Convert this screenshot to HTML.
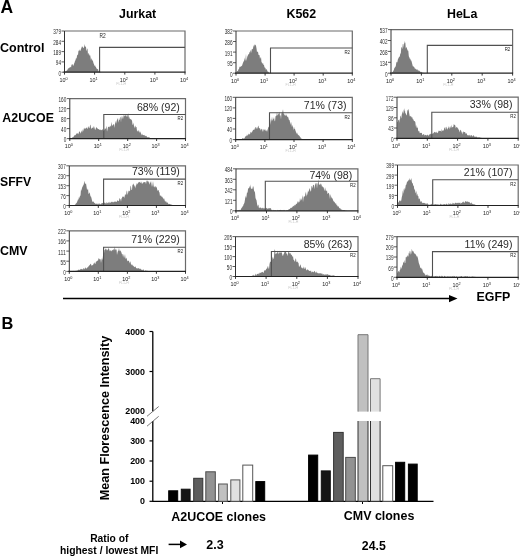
<!DOCTYPE html><html><head><meta charset="utf-8"><style>html,body{margin:0;padding:0;background:#fff;width:520px;height:557px;overflow:hidden}</style></head><body><svg width="520" height="557" viewBox="0 0 520 557" style="display:block;filter:blur(0.3px)">
<rect width="520" height="557" fill="#fff"/>
<path d="M64.50,72.20 L64.50,72.00 L65.00,71.75 L65.50,71.16 L66.00,71.09 L66.50,70.70 L67.00,70.57 L67.50,69.80 L68.00,68.61 L68.50,68.55 L69.00,67.68 L69.50,67.76 L70.00,67.20 L70.50,66.74 L71.00,67.78 L71.50,64.84 L72.00,64.54 L72.50,63.90 L73.00,65.82 L73.50,65.39 L74.00,63.78 L74.50,62.65 L75.00,60.96 L75.50,60.24 L76.00,58.05 L76.50,58.79 L77.00,55.94 L77.50,54.56 L78.00,55.12 L78.50,50.15 L79.00,51.20 L79.50,49.19 L80.00,51.35 L80.50,50.62 L81.00,49.03 L81.50,47.83 L82.00,46.29 L82.50,46.67 L83.00,47.57 L83.50,48.16 L84.00,47.14 L84.50,43.90 L85.00,47.07 L85.50,46.25 L86.00,46.91 L86.50,51.13 L87.00,49.48 L87.50,48.30 L88.00,54.92 L88.50,53.00 L89.00,53.60 L89.50,55.88 L90.00,54.86 L90.50,57.02 L91.00,60.63 L91.50,57.97 L92.00,59.54 L92.50,60.46 L93.00,61.18 L93.50,63.21 L94.00,64.15 L94.50,66.29 L95.00,64.97 L95.50,66.77 L96.00,67.24 L96.50,68.47 L97.00,68.87 L97.50,69.23 L98.00,68.91 L98.50,71.23 L99.00,71.56 L99.50,71.32 L100.00,71.38 L100.50,72.20 L100.50,72.20Z" fill="#7d7d7d" stroke="none"/>
<path d="M64.5,31 H185 V72.2" fill="none" stroke="#6a6a6a" stroke-width="1.2"/>
<path d="M99.6,72.2 V47.4 H185" fill="none" stroke="#505050" stroke-width="1.1"/>
<path d="M64.5,31 V72.2" stroke="#333" stroke-width="1" fill="none"/>
<path d="M63.5,72.2 H185.5" stroke="#222" stroke-width="1.2" fill="none"/>
<path d="M61.5,31.0 H64.5" stroke="#333" stroke-width="0.8"/>
<text x="61.0" y="34.4" font-family="Liberation Sans, sans-serif" font-size="6.5" text-anchor="end" fill="#2a2a2a" textLength="7.8" lengthAdjust="spacingAndGlyphs">379</text>
<path d="M61.5,41.3 H64.5" stroke="#333" stroke-width="0.8"/>
<text x="61.0" y="44.7" font-family="Liberation Sans, sans-serif" font-size="6.5" text-anchor="end" fill="#2a2a2a" textLength="7.8" lengthAdjust="spacingAndGlyphs">284</text>
<path d="M61.5,51.6 H64.5" stroke="#333" stroke-width="0.8"/>
<text x="61.0" y="55.0" font-family="Liberation Sans, sans-serif" font-size="6.5" text-anchor="end" fill="#2a2a2a" textLength="7.8" lengthAdjust="spacingAndGlyphs">189</text>
<path d="M61.5,61.9 H64.5" stroke="#333" stroke-width="0.8"/>
<text x="61.0" y="65.3" font-family="Liberation Sans, sans-serif" font-size="6.5" text-anchor="end" fill="#2a2a2a" textLength="5.2" lengthAdjust="spacingAndGlyphs">94</text>
<path d="M61.5,72.2 H64.5" stroke="#333" stroke-width="0.8"/>
<text x="61.0" y="75.6" font-family="Liberation Sans, sans-serif" font-size="6.5" text-anchor="end" fill="#2a2a2a" textLength="2.6" lengthAdjust="spacingAndGlyphs">0</text>
<path d="M64.5,72.2 V74.60000000000001" stroke="#222" stroke-width="0.9"/>
<text x="63.5" y="81.8" font-family="Liberation Sans, sans-serif" font-size="5.4" text-anchor="middle" fill="#222">10<tspan font-size="3.8" dy="-2">0</tspan></text>
<path d="M94.6,72.2 V74.60000000000001" stroke="#222" stroke-width="0.9"/>
<text x="93.6" y="81.8" font-family="Liberation Sans, sans-serif" font-size="5.4" text-anchor="middle" fill="#222">10<tspan font-size="3.8" dy="-2">1</tspan></text>
<path d="M124.8,72.2 V74.60000000000001" stroke="#222" stroke-width="0.9"/>
<text x="123.8" y="81.8" font-family="Liberation Sans, sans-serif" font-size="5.4" text-anchor="middle" fill="#222">10<tspan font-size="3.8" dy="-2">2</tspan></text>
<path d="M154.9,72.2 V74.60000000000001" stroke="#222" stroke-width="0.9"/>
<text x="153.9" y="81.8" font-family="Liberation Sans, sans-serif" font-size="5.4" text-anchor="middle" fill="#222">10<tspan font-size="3.8" dy="-2">3</tspan></text>
<path d="M185.0,72.2 V74.60000000000001" stroke="#222" stroke-width="0.9"/>
<text x="184.0" y="81.8" font-family="Liberation Sans, sans-serif" font-size="5.4" text-anchor="middle" fill="#222">10<tspan font-size="3.8" dy="-2">4</tspan></text>
<text x="121.2" y="84.8" font-family="Liberation Sans, sans-serif" font-size="3.6" text-anchor="middle" fill="#c8c8c8">FL1-H</text>
<text x="99.6" y="37.6" font-family="Liberation Sans, sans-serif" font-size="6.3" fill="#222" textLength="6.2" lengthAdjust="spacingAndGlyphs">R2</text>
<path d="M70.00,138.60 L70.00,138.60 L70.50,138.30 L71.00,137.82 L71.50,138.36 L72.00,138.36 L72.50,136.95 L73.00,137.13 L73.50,137.01 L74.00,135.63 L74.50,135.20 L75.00,135.39 L75.50,135.00 L76.00,134.53 L76.50,133.37 L77.00,133.70 L77.50,133.43 L78.00,133.06 L78.50,134.50 L79.00,131.70 L79.50,131.62 L80.00,131.66 L80.50,133.80 L81.00,132.15 L81.50,130.27 L82.00,132.83 L82.50,130.71 L83.00,128.97 L83.50,131.43 L84.00,127.49 L84.50,128.59 L85.00,129.28 L85.50,128.45 L86.00,127.80 L86.50,128.30 L87.00,126.66 L87.50,128.98 L88.00,128.43 L88.50,126.11 L89.00,127.38 L89.50,128.54 L90.00,125.56 L90.50,124.53 L91.00,127.64 L91.50,129.20 L92.00,127.47 L92.50,127.64 L93.00,128.01 L93.50,125.70 L94.00,129.35 L94.50,126.26 L95.00,129.96 L95.50,129.43 L96.00,127.64 L96.50,127.18 L97.00,127.75 L97.50,128.62 L98.00,129.08 L98.50,129.26 L99.00,128.93 L99.50,130.04 L100.00,129.68 L100.50,129.53 L101.00,130.39 L101.50,129.72 L102.00,130.14 L102.50,128.77 L103.00,130.34 L103.50,130.83 L104.00,130.42 L104.50,129.62 L105.00,128.05 L105.50,129.31 L106.00,127.97 L106.50,125.72 L107.00,131.65 L107.50,129.41 L108.00,127.20 L108.50,126.73 L109.00,126.72 L109.50,127.51 L110.00,125.59 L110.50,125.93 L111.00,126.99 L111.50,121.81 L112.00,124.81 L112.50,125.94 L113.00,124.75 L113.50,124.55 L114.00,123.86 L114.50,127.97 L115.00,123.74 L115.50,120.79 L116.00,124.07 L116.50,121.78 L117.00,119.63 L117.50,119.37 L118.00,117.87 L118.50,122.87 L119.00,120.15 L119.50,119.71 L120.00,117.64 L120.50,116.42 L121.00,122.41 L121.50,115.57 L122.00,119.46 L122.50,115.67 L123.00,119.20 L123.50,116.20 L124.00,114.30 L124.50,116.42 L125.00,115.68 L125.50,114.83 L126.00,116.13 L126.50,116.71 L127.00,114.14 L127.50,115.16 L128.00,117.62 L128.50,112.65 L129.00,119.45 L129.50,116.57 L130.00,119.20 L130.50,119.15 L131.00,118.80 L131.50,120.25 L132.00,120.16 L132.50,124.47 L133.00,125.07 L133.50,122.38 L134.00,125.99 L134.50,127.03 L135.00,128.58 L135.50,125.23 L136.00,127.02 L136.50,127.08 L137.00,131.06 L137.50,130.55 L138.00,132.20 L138.50,130.57 L139.00,130.20 L139.50,133.05 L140.00,131.20 L140.50,132.18 L141.00,133.59 L141.50,135.38 L142.00,133.25 L142.50,134.72 L143.00,135.31 L143.50,134.92 L144.00,135.19 L144.50,134.84 L145.00,136.51 L145.50,135.64 L146.00,135.76 L146.50,136.08 L147.00,137.08 L147.50,137.44 L148.00,136.87 L148.50,137.37 L149.00,137.51 L149.50,137.19 L150.00,137.92 L150.50,138.60 L151.00,138.22 L151.50,138.60 L152.00,138.38 L152.50,138.52 L152.80,138.60Z" fill="#7d7d7d" stroke="none"/>
<path d="M69.8,98.6 H185.5 V138.6" fill="none" stroke="#6a6a6a" stroke-width="1.2"/>
<path d="M103.8,138.6 V114.5 H185.5" fill="none" stroke="#505050" stroke-width="1.1"/>
<path d="M69.8,98.6 V138.6" stroke="#333" stroke-width="1" fill="none"/>
<path d="M68.8,138.6 H186.0" stroke="#222" stroke-width="1.2" fill="none"/>
<path d="M66.8,98.6 H69.8" stroke="#333" stroke-width="0.8"/>
<text x="66.3" y="102.0" font-family="Liberation Sans, sans-serif" font-size="6.5" text-anchor="end" fill="#2a2a2a" textLength="7.8" lengthAdjust="spacingAndGlyphs">160</text>
<path d="M66.8,108.6 H69.8" stroke="#333" stroke-width="0.8"/>
<text x="66.3" y="112.0" font-family="Liberation Sans, sans-serif" font-size="6.5" text-anchor="end" fill="#2a2a2a" textLength="7.8" lengthAdjust="spacingAndGlyphs">120</text>
<path d="M66.8,118.6 H69.8" stroke="#333" stroke-width="0.8"/>
<text x="66.3" y="122.0" font-family="Liberation Sans, sans-serif" font-size="6.5" text-anchor="end" fill="#2a2a2a" textLength="5.2" lengthAdjust="spacingAndGlyphs">80</text>
<path d="M66.8,128.6 H69.8" stroke="#333" stroke-width="0.8"/>
<text x="66.3" y="132.0" font-family="Liberation Sans, sans-serif" font-size="6.5" text-anchor="end" fill="#2a2a2a" textLength="5.2" lengthAdjust="spacingAndGlyphs">40</text>
<path d="M66.8,138.6 H69.8" stroke="#333" stroke-width="0.8"/>
<text x="66.3" y="142.0" font-family="Liberation Sans, sans-serif" font-size="6.5" text-anchor="end" fill="#2a2a2a" textLength="2.6" lengthAdjust="spacingAndGlyphs">0</text>
<path d="M69.8,138.6 V141.0" stroke="#222" stroke-width="0.9"/>
<text x="68.8" y="148.2" font-family="Liberation Sans, sans-serif" font-size="5.4" text-anchor="middle" fill="#222">10<tspan font-size="3.8" dy="-2">0</tspan></text>
<path d="M98.7,138.6 V141.0" stroke="#222" stroke-width="0.9"/>
<text x="97.7" y="148.2" font-family="Liberation Sans, sans-serif" font-size="5.4" text-anchor="middle" fill="#222">10<tspan font-size="3.8" dy="-2">1</tspan></text>
<path d="M127.7,138.6 V141.0" stroke="#222" stroke-width="0.9"/>
<text x="126.7" y="148.2" font-family="Liberation Sans, sans-serif" font-size="5.4" text-anchor="middle" fill="#222">10<tspan font-size="3.8" dy="-2">2</tspan></text>
<path d="M156.6,138.6 V141.0" stroke="#222" stroke-width="0.9"/>
<text x="155.6" y="148.2" font-family="Liberation Sans, sans-serif" font-size="5.4" text-anchor="middle" fill="#222">10<tspan font-size="3.8" dy="-2">3</tspan></text>
<path d="M185.5,138.6 V141.0" stroke="#222" stroke-width="0.9"/>
<text x="184.5" y="148.2" font-family="Liberation Sans, sans-serif" font-size="5.4" text-anchor="middle" fill="#222">10<tspan font-size="3.8" dy="-2">4</tspan></text>
<text x="124.2" y="151.2" font-family="Liberation Sans, sans-serif" font-size="3.6" text-anchor="middle" fill="#c8c8c8">FL1-H</text>
<text x="183.2" y="120.3" font-family="Liberation Sans, sans-serif" font-size="5.9" text-anchor="end" fill="#222" textLength="5.6" lengthAdjust="spacingAndGlyphs">R2</text>
<text x="179.8" y="110.6" font-family="Liberation Sans, sans-serif" font-size="10.55" text-anchor="end" fill="#2a2a2a">68% (92)</text>
<path d="M70.00,205.50 L70.00,205.50 L70.50,205.45 L71.00,205.40 L71.50,205.35 L72.00,205.30 L72.50,205.25 L73.00,204.97 L73.50,205.06 L74.00,205.28 L74.50,205.05 L75.00,204.75 L75.50,204.37 L76.00,203.22 L76.50,203.23 L77.00,202.01 L77.50,201.05 L78.00,199.21 L78.50,199.65 L79.00,196.51 L79.50,198.43 L80.00,195.86 L80.50,195.80 L81.00,188.93 L81.50,191.09 L82.00,187.81 L82.50,186.91 L83.00,185.42 L83.50,185.17 L84.00,182.89 L84.50,180.67 L85.00,184.07 L85.50,183.67 L86.00,183.30 L86.50,186.59 L87.00,189.64 L87.50,189.69 L88.00,188.17 L88.50,194.10 L89.00,193.60 L89.50,192.36 L90.00,194.10 L90.50,196.49 L91.00,196.59 L91.50,198.33 L92.00,200.57 L92.50,201.75 L93.00,201.94 L93.50,201.23 L94.00,202.52 L94.50,203.02 L95.00,203.25 L95.50,203.94 L96.00,203.56 L96.50,204.05 L97.00,203.33 L97.50,204.61 L98.00,203.35 L98.50,203.80 L99.00,204.41 L99.50,203.16 L100.00,203.63 L100.50,204.52 L101.00,203.85 L101.50,203.25 L102.00,203.58 L102.50,202.94 L103.00,202.92 L103.50,202.92 L104.00,203.06 L104.50,202.51 L105.00,202.81 L105.50,202.88 L106.00,204.16 L106.50,202.58 L107.00,202.32 L107.50,203.13 L108.00,203.19 L108.50,201.87 L109.00,203.82 L109.50,202.58 L110.00,201.47 L110.50,203.21 L111.00,202.19 L111.50,201.38 L112.00,202.44 L112.50,201.92 L113.00,201.59 L113.50,202.61 L114.00,201.99 L114.50,201.63 L115.00,201.17 L115.50,201.63 L116.00,201.63 L116.50,202.02 L117.00,201.36 L117.50,200.23 L118.00,200.62 L118.50,201.18 L119.00,200.99 L119.50,197.85 L120.00,198.91 L120.50,199.13 L121.00,201.86 L121.50,198.40 L122.00,198.01 L122.50,196.19 L123.00,197.02 L123.50,197.08 L124.00,195.85 L124.50,198.52 L125.00,194.11 L125.50,194.46 L126.00,195.38 L126.50,191.73 L127.00,190.29 L127.50,194.95 L128.00,193.17 L128.50,190.97 L129.00,190.57 L129.50,190.99 L130.00,191.39 L130.50,185.55 L131.00,186.81 L131.50,190.03 L132.00,189.89 L132.50,184.31 L133.00,185.13 L133.50,183.32 L134.00,184.64 L134.50,187.10 L135.00,184.78 L135.50,188.50 L136.00,185.70 L136.50,184.13 L137.00,182.75 L137.50,184.47 L138.00,183.19 L138.50,182.14 L139.00,182.23 L139.50,181.73 L140.00,182.40 L140.50,183.25 L141.00,181.30 L141.50,182.50 L142.00,183.94 L142.50,183.54 L143.00,182.42 L143.50,182.55 L144.00,182.04 L144.50,182.26 L145.00,181.90 L145.50,182.36 L146.00,184.20 L146.50,181.27 L147.00,180.13 L147.50,181.11 L148.00,182.10 L148.50,180.95 L149.00,183.28 L149.50,184.79 L150.00,181.40 L150.50,183.37 L151.00,180.82 L151.50,184.21 L152.00,187.12 L152.50,184.71 L153.00,180.91 L153.50,184.97 L154.00,187.39 L154.50,187.09 L155.00,185.64 L155.50,186.42 L156.00,187.70 L156.50,186.38 L157.00,188.60 L157.50,190.74 L158.00,190.59 L158.50,189.72 L159.00,191.86 L159.50,192.52 L160.00,196.29 L160.50,195.60 L161.00,195.13 L161.50,197.09 L162.00,196.18 L162.50,197.43 L163.00,197.83 L163.50,199.60 L164.00,197.91 L164.50,199.77 L165.00,201.55 L165.50,201.86 L166.00,200.61 L166.50,202.69 L167.00,202.30 L167.50,202.56 L168.00,203.35 L168.50,204.17 L169.00,203.85 L169.50,204.07 L170.00,204.09 L170.50,204.35 L171.00,204.74 L171.50,204.60 L172.00,204.84 L172.50,205.06 L173.00,205.25 L173.50,205.38 L174.00,205.50 L174.00,205.50Z" fill="#7d7d7d" stroke="none"/>
<path d="M69.3,165.8 H185.5 V205.5" fill="none" stroke="#6a6a6a" stroke-width="1.2"/>
<path d="M103.6,205.5 V179.1 H185.5" fill="none" stroke="#505050" stroke-width="1.1"/>
<path d="M69.3,165.8 V205.5" stroke="#333" stroke-width="1" fill="none"/>
<path d="M68.3,205.5 H186.0" stroke="#222" stroke-width="1.2" fill="none"/>
<path d="M66.3,165.8 H69.3" stroke="#333" stroke-width="0.8"/>
<text x="65.8" y="169.2" font-family="Liberation Sans, sans-serif" font-size="6.5" text-anchor="end" fill="#2a2a2a" textLength="7.8" lengthAdjust="spacingAndGlyphs">307</text>
<path d="M66.3,175.7 H69.3" stroke="#333" stroke-width="0.8"/>
<text x="65.8" y="179.1" font-family="Liberation Sans, sans-serif" font-size="6.5" text-anchor="end" fill="#2a2a2a" textLength="7.8" lengthAdjust="spacingAndGlyphs">230</text>
<path d="M66.3,185.7 H69.3" stroke="#333" stroke-width="0.8"/>
<text x="65.8" y="189.1" font-family="Liberation Sans, sans-serif" font-size="6.5" text-anchor="end" fill="#2a2a2a" textLength="7.8" lengthAdjust="spacingAndGlyphs">153</text>
<path d="M66.3,195.6 H69.3" stroke="#333" stroke-width="0.8"/>
<text x="65.8" y="199.0" font-family="Liberation Sans, sans-serif" font-size="6.5" text-anchor="end" fill="#2a2a2a" textLength="5.2" lengthAdjust="spacingAndGlyphs">76</text>
<path d="M66.3,205.5 H69.3" stroke="#333" stroke-width="0.8"/>
<text x="65.8" y="208.9" font-family="Liberation Sans, sans-serif" font-size="6.5" text-anchor="end" fill="#2a2a2a" textLength="2.6" lengthAdjust="spacingAndGlyphs">0</text>
<path d="M69.3,205.5 V207.9" stroke="#222" stroke-width="0.9"/>
<text x="68.3" y="215.1" font-family="Liberation Sans, sans-serif" font-size="5.4" text-anchor="middle" fill="#222">10<tspan font-size="3.8" dy="-2">0</tspan></text>
<path d="M98.3,205.5 V207.9" stroke="#222" stroke-width="0.9"/>
<text x="97.3" y="215.1" font-family="Liberation Sans, sans-serif" font-size="5.4" text-anchor="middle" fill="#222">10<tspan font-size="3.8" dy="-2">1</tspan></text>
<path d="M127.4,205.5 V207.9" stroke="#222" stroke-width="0.9"/>
<text x="126.4" y="215.1" font-family="Liberation Sans, sans-serif" font-size="5.4" text-anchor="middle" fill="#222">10<tspan font-size="3.8" dy="-2">2</tspan></text>
<path d="M156.4,205.5 V207.9" stroke="#222" stroke-width="0.9"/>
<text x="155.4" y="215.1" font-family="Liberation Sans, sans-serif" font-size="5.4" text-anchor="middle" fill="#222">10<tspan font-size="3.8" dy="-2">3</tspan></text>
<path d="M185.5,205.5 V207.9" stroke="#222" stroke-width="0.9"/>
<text x="184.5" y="215.1" font-family="Liberation Sans, sans-serif" font-size="5.4" text-anchor="middle" fill="#222">10<tspan font-size="3.8" dy="-2">4</tspan></text>
<text x="123.9" y="218.1" font-family="Liberation Sans, sans-serif" font-size="3.6" text-anchor="middle" fill="#c8c8c8">FL1-H</text>
<text x="183.2" y="184.9" font-family="Liberation Sans, sans-serif" font-size="5.9" text-anchor="end" fill="#222" textLength="5.6" lengthAdjust="spacingAndGlyphs">R2</text>
<text x="179.8" y="175.2" font-family="Liberation Sans, sans-serif" font-size="10.55" text-anchor="end" fill="#2a2a2a">73% (119)</text>
<path d="M70.00,271.40 L70.00,271.40 L70.50,271.34 L71.00,271.28 L71.50,271.22 L72.00,271.16 L72.50,271.10 L73.00,271.02 L73.50,271.05 L74.00,270.71 L74.50,271.19 L75.00,271.00 L75.50,270.68 L76.00,271.06 L76.50,270.60 L77.00,271.06 L77.50,270.47 L78.00,269.86 L78.50,269.74 L79.00,269.87 L79.50,269.83 L80.00,270.24 L80.50,268.65 L81.00,269.13 L81.50,268.72 L82.00,269.57 L82.50,269.11 L83.00,269.85 L83.50,268.33 L84.00,267.97 L84.50,269.38 L85.00,268.03 L85.50,267.34 L86.00,268.70 L86.50,268.54 L87.00,267.78 L87.50,267.23 L88.00,267.61 L88.50,266.22 L89.00,265.79 L89.50,265.20 L90.00,264.87 L90.50,263.86 L91.00,263.89 L91.50,266.04 L92.00,265.01 L92.50,265.35 L93.00,265.15 L93.50,263.68 L94.00,263.17 L94.50,262.17 L95.00,264.32 L95.50,263.53 L96.00,261.55 L96.50,261.38 L97.00,261.13 L97.50,260.37 L98.00,261.02 L98.50,258.35 L99.00,258.56 L99.50,259.07 L100.00,259.84 L100.50,258.84 L101.00,262.94 L101.50,259.83 L102.00,257.91 L102.50,260.33 L103.00,255.46 L103.50,252.38 L104.00,253.28 L104.50,250.03 L105.00,250.10 L105.50,248.75 L106.00,248.45 L106.50,249.52 L107.00,250.87 L107.50,249.63 L108.00,249.46 L108.50,248.06 L109.00,248.77 L109.50,250.46 L110.00,251.50 L110.50,249.95 L111.00,250.68 L111.50,251.43 L112.00,249.85 L112.50,250.60 L113.00,249.69 L113.50,249.09 L114.00,250.80 L114.50,246.26 L115.00,250.87 L115.50,248.56 L116.00,250.37 L116.50,248.88 L117.00,255.01 L117.50,252.44 L118.00,250.94 L118.50,250.53 L119.00,247.78 L119.50,251.40 L120.00,249.97 L120.50,251.11 L121.00,251.38 L121.50,252.70 L122.00,254.40 L122.50,253.85 L123.00,257.12 L123.50,253.85 L124.00,258.16 L124.50,256.58 L125.00,253.98 L125.50,258.54 L126.00,258.69 L126.50,257.45 L127.00,259.82 L127.50,261.60 L128.00,260.62 L128.50,260.77 L129.00,261.21 L129.50,263.61 L130.00,261.23 L130.50,262.00 L131.00,264.36 L131.50,264.53 L132.00,265.52 L132.50,264.17 L133.00,266.38 L133.50,265.53 L134.00,266.80 L134.50,267.27 L135.00,266.55 L135.50,266.47 L136.00,267.73 L136.50,268.46 L137.00,267.90 L137.50,268.60 L138.00,268.54 L138.50,268.02 L139.00,268.38 L139.50,269.35 L140.00,268.10 L140.50,269.34 L141.00,269.11 L141.50,269.89 L142.00,269.75 L142.50,270.59 L143.00,269.26 L143.50,269.58 L144.00,270.70 L144.50,270.92 L145.00,271.07 L145.50,270.16 L146.00,270.78 L146.50,270.71 L147.00,270.86 L147.50,270.86 L148.00,271.22 L148.50,270.94 L149.00,271.40 L149.50,271.10 L150.00,271.14 L150.50,271.21 L151.00,271.27 L151.50,271.34 L152.00,271.40 L152.00,271.40Z" fill="#7d7d7d" stroke="none"/>
<path d="M69.3,230.8 H185.5 V271.4" fill="none" stroke="#6a6a6a" stroke-width="1.2"/>
<path d="M103.6,271.4 V247.2 H185.5" fill="none" stroke="#505050" stroke-width="1.1"/>
<path d="M69.3,230.8 V271.4" stroke="#333" stroke-width="1" fill="none"/>
<path d="M68.3,271.4 H186.0" stroke="#222" stroke-width="1.2" fill="none"/>
<path d="M66.3,230.8 H69.3" stroke="#333" stroke-width="0.8"/>
<text x="65.8" y="234.2" font-family="Liberation Sans, sans-serif" font-size="6.5" text-anchor="end" fill="#2a2a2a" textLength="7.8" lengthAdjust="spacingAndGlyphs">222</text>
<path d="M66.3,240.9 H69.3" stroke="#333" stroke-width="0.8"/>
<text x="65.8" y="244.3" font-family="Liberation Sans, sans-serif" font-size="6.5" text-anchor="end" fill="#2a2a2a" textLength="7.8" lengthAdjust="spacingAndGlyphs">166</text>
<path d="M66.3,251.1 H69.3" stroke="#333" stroke-width="0.8"/>
<text x="65.8" y="254.5" font-family="Liberation Sans, sans-serif" font-size="6.5" text-anchor="end" fill="#2a2a2a" textLength="7.8" lengthAdjust="spacingAndGlyphs">111</text>
<path d="M66.3,261.2 H69.3" stroke="#333" stroke-width="0.8"/>
<text x="65.8" y="264.6" font-family="Liberation Sans, sans-serif" font-size="6.5" text-anchor="end" fill="#2a2a2a" textLength="5.2" lengthAdjust="spacingAndGlyphs">55</text>
<path d="M66.3,271.4 H69.3" stroke="#333" stroke-width="0.8"/>
<text x="65.8" y="274.8" font-family="Liberation Sans, sans-serif" font-size="6.5" text-anchor="end" fill="#2a2a2a" textLength="2.6" lengthAdjust="spacingAndGlyphs">0</text>
<path d="M69.3,271.4 V273.79999999999995" stroke="#222" stroke-width="0.9"/>
<text x="68.3" y="281.0" font-family="Liberation Sans, sans-serif" font-size="5.4" text-anchor="middle" fill="#222">10<tspan font-size="3.8" dy="-2">0</tspan></text>
<path d="M98.3,271.4 V273.79999999999995" stroke="#222" stroke-width="0.9"/>
<text x="97.3" y="281.0" font-family="Liberation Sans, sans-serif" font-size="5.4" text-anchor="middle" fill="#222">10<tspan font-size="3.8" dy="-2">1</tspan></text>
<path d="M127.4,271.4 V273.79999999999995" stroke="#222" stroke-width="0.9"/>
<text x="126.4" y="281.0" font-family="Liberation Sans, sans-serif" font-size="5.4" text-anchor="middle" fill="#222">10<tspan font-size="3.8" dy="-2">2</tspan></text>
<path d="M156.4,271.4 V273.79999999999995" stroke="#222" stroke-width="0.9"/>
<text x="155.4" y="281.0" font-family="Liberation Sans, sans-serif" font-size="5.4" text-anchor="middle" fill="#222">10<tspan font-size="3.8" dy="-2">3</tspan></text>
<path d="M185.5,271.4 V273.79999999999995" stroke="#222" stroke-width="0.9"/>
<text x="184.5" y="281.0" font-family="Liberation Sans, sans-serif" font-size="5.4" text-anchor="middle" fill="#222">10<tspan font-size="3.8" dy="-2">4</tspan></text>
<text x="123.9" y="284.0" font-family="Liberation Sans, sans-serif" font-size="3.6" text-anchor="middle" fill="#c8c8c8">FL1-H</text>
<text x="183.2" y="253.0" font-family="Liberation Sans, sans-serif" font-size="5.9" text-anchor="end" fill="#222" textLength="5.6" lengthAdjust="spacingAndGlyphs">R2</text>
<text x="179.8" y="243.3" font-family="Liberation Sans, sans-serif" font-size="10.55" text-anchor="end" fill="#2a2a2a">71% (229)</text>
<path d="M236.50,73.20 L236.50,71.88 L237.00,71.18 L237.50,70.91 L238.00,70.69 L238.50,69.35 L239.00,69.11 L239.50,66.77 L240.00,66.66 L240.50,66.75 L241.00,66.43 L241.50,66.02 L242.00,65.66 L242.50,64.28 L243.00,62.72 L243.50,61.65 L244.00,60.76 L244.50,57.49 L245.00,61.29 L245.50,59.31 L246.00,53.82 L246.50,60.98 L247.00,57.92 L247.50,55.98 L248.00,55.24 L248.50,53.96 L249.00,54.15 L249.50,52.22 L250.00,51.84 L250.50,49.71 L251.00,53.36 L251.50,50.85 L252.00,48.55 L252.50,49.51 L253.00,48.73 L253.50,45.09 L254.00,47.01 L254.50,44.71 L255.00,44.40 L255.50,45.03 L256.00,45.65 L256.50,48.38 L257.00,52.28 L257.50,51.44 L258.00,51.85 L258.50,54.75 L259.00,55.24 L259.50,55.03 L260.00,59.09 L260.50,57.80 L261.00,57.06 L261.50,62.34 L262.00,62.58 L262.50,63.94 L263.00,62.64 L263.50,64.89 L264.00,65.06 L264.50,67.41 L265.00,67.51 L265.50,68.24 L266.00,70.19 L266.50,68.64 L267.00,69.73 L267.50,71.80 L268.00,71.28 L268.50,72.31 L269.00,72.49 L269.50,72.91 L270.00,73.20 L270.00,73.20Z" fill="#7d7d7d" stroke="none"/>
<path d="M236,31 H352.3 V73.2" fill="none" stroke="#6a6a6a" stroke-width="1.2"/>
<path d="M270.5,73.2 V48 H352.3" fill="none" stroke="#505050" stroke-width="1.1"/>
<path d="M236,31 V73.2" stroke="#333" stroke-width="1" fill="none"/>
<path d="M235,73.2 H352.8" stroke="#222" stroke-width="1.2" fill="none"/>
<path d="M233,31.0 H236" stroke="#333" stroke-width="0.8"/>
<text x="232.5" y="34.4" font-family="Liberation Sans, sans-serif" font-size="6.5" text-anchor="end" fill="#2a2a2a" textLength="7.8" lengthAdjust="spacingAndGlyphs">382</text>
<path d="M233,41.5 H236" stroke="#333" stroke-width="0.8"/>
<text x="232.5" y="44.9" font-family="Liberation Sans, sans-serif" font-size="6.5" text-anchor="end" fill="#2a2a2a" textLength="7.8" lengthAdjust="spacingAndGlyphs">286</text>
<path d="M233,52.1 H236" stroke="#333" stroke-width="0.8"/>
<text x="232.5" y="55.5" font-family="Liberation Sans, sans-serif" font-size="6.5" text-anchor="end" fill="#2a2a2a" textLength="7.8" lengthAdjust="spacingAndGlyphs">191</text>
<path d="M233,62.7 H236" stroke="#333" stroke-width="0.8"/>
<text x="232.5" y="66.1" font-family="Liberation Sans, sans-serif" font-size="6.5" text-anchor="end" fill="#2a2a2a" textLength="5.2" lengthAdjust="spacingAndGlyphs">95</text>
<path d="M233,73.2 H236" stroke="#333" stroke-width="0.8"/>
<text x="232.5" y="76.6" font-family="Liberation Sans, sans-serif" font-size="6.5" text-anchor="end" fill="#2a2a2a" textLength="2.6" lengthAdjust="spacingAndGlyphs">0</text>
<path d="M236.0,73.2 V75.60000000000001" stroke="#222" stroke-width="0.9"/>
<text x="235.0" y="82.8" font-family="Liberation Sans, sans-serif" font-size="5.4" text-anchor="middle" fill="#222">10<tspan font-size="3.8" dy="-2">0</tspan></text>
<path d="M265.1,73.2 V75.60000000000001" stroke="#222" stroke-width="0.9"/>
<text x="264.1" y="82.8" font-family="Liberation Sans, sans-serif" font-size="5.4" text-anchor="middle" fill="#222">10<tspan font-size="3.8" dy="-2">1</tspan></text>
<path d="M294.1,73.2 V75.60000000000001" stroke="#222" stroke-width="0.9"/>
<text x="293.1" y="82.8" font-family="Liberation Sans, sans-serif" font-size="5.4" text-anchor="middle" fill="#222">10<tspan font-size="3.8" dy="-2">2</tspan></text>
<path d="M323.2,73.2 V75.60000000000001" stroke="#222" stroke-width="0.9"/>
<text x="322.2" y="82.8" font-family="Liberation Sans, sans-serif" font-size="5.4" text-anchor="middle" fill="#222">10<tspan font-size="3.8" dy="-2">3</tspan></text>
<path d="M352.3,73.2 V75.60000000000001" stroke="#222" stroke-width="0.9"/>
<text x="351.3" y="82.8" font-family="Liberation Sans, sans-serif" font-size="5.4" text-anchor="middle" fill="#222">10<tspan font-size="3.8" dy="-2">4</tspan></text>
<text x="290.6" y="85.8" font-family="Liberation Sans, sans-serif" font-size="3.6" text-anchor="middle" fill="#c8c8c8">FL1-H</text>
<text x="350.0" y="53.8" font-family="Liberation Sans, sans-serif" font-size="5.9" text-anchor="end" fill="#222" textLength="5.6" lengthAdjust="spacingAndGlyphs">R2</text>
<path d="M240.00,139.60 L240.00,139.50 L240.50,139.30 L241.00,138.99 L241.50,139.39 L242.00,138.77 L242.50,137.95 L243.00,138.53 L243.50,138.52 L244.00,138.49 L244.50,138.26 L245.00,137.34 L245.50,136.15 L246.00,136.35 L246.50,136.00 L247.00,134.18 L247.50,135.63 L248.00,135.32 L248.50,133.91 L249.00,133.42 L249.50,134.39 L250.00,134.14 L250.50,132.26 L251.00,131.86 L251.50,133.15 L252.00,131.49 L252.50,131.47 L253.00,129.79 L253.50,130.09 L254.00,129.62 L254.50,129.76 L255.00,127.56 L255.50,126.83 L256.00,129.14 L256.50,127.12 L257.00,129.29 L257.50,127.81 L258.00,126.53 L258.50,125.53 L259.00,128.61 L259.50,128.30 L260.00,128.06 L260.50,130.71 L261.00,128.65 L261.50,129.81 L262.00,128.47 L262.50,130.75 L263.00,132.06 L263.50,129.45 L264.00,129.32 L264.50,130.56 L265.00,128.84 L265.50,130.52 L266.00,131.10 L266.50,129.90 L267.00,131.88 L267.50,130.05 L268.00,128.43 L268.50,126.38 L269.00,127.27 L269.50,124.98 L270.00,125.11 L270.50,121.99 L271.00,118.17 L271.50,121.79 L272.00,116.23 L272.50,120.97 L273.00,119.47 L273.50,118.83 L274.00,117.01 L274.50,120.48 L275.00,121.57 L275.50,116.53 L276.00,115.77 L276.50,115.63 L277.00,111.78 L277.50,115.46 L278.00,114.94 L278.50,113.36 L279.00,113.87 L279.50,111.46 L280.00,116.18 L280.50,114.50 L281.00,119.51 L281.50,112.06 L282.00,113.86 L282.50,111.44 L283.00,109.14 L283.50,113.21 L284.00,114.03 L284.50,114.85 L285.00,115.82 L285.50,115.87 L286.00,114.11 L286.50,115.54 L287.00,115.89 L287.50,117.29 L288.00,116.45 L288.50,118.16 L289.00,120.24 L289.50,119.87 L290.00,122.26 L290.50,124.96 L291.00,121.53 L291.50,124.21 L292.00,127.38 L292.50,124.68 L293.00,126.70 L293.50,130.39 L294.00,126.43 L294.50,129.05 L295.00,129.11 L295.50,130.76 L296.00,131.92 L296.50,134.10 L297.00,132.33 L297.50,133.97 L298.00,134.85 L298.50,134.91 L299.00,135.66 L299.50,135.84 L300.00,137.01 L300.50,137.36 L301.00,138.82 L301.50,138.59 L302.00,138.76 L302.50,139.32 L303.00,139.38 L303.50,139.43 L304.00,139.49 L304.50,139.54 L305.00,139.60 L305.00,139.60Z" fill="#7d7d7d" stroke="none"/>
<path d="M235.7,97.3 H352.3 V139.6" fill="none" stroke="#6a6a6a" stroke-width="1.2"/>
<path d="M269.5,139.6 V112.8 H352.3" fill="none" stroke="#505050" stroke-width="1.1"/>
<path d="M235.7,97.3 V139.6" stroke="#333" stroke-width="1" fill="none"/>
<path d="M234.7,139.6 H352.8" stroke="#222" stroke-width="1.2" fill="none"/>
<path d="M232.7,97.3 H235.7" stroke="#333" stroke-width="0.8"/>
<text x="232.2" y="100.7" font-family="Liberation Sans, sans-serif" font-size="6.5" text-anchor="end" fill="#2a2a2a" textLength="7.8" lengthAdjust="spacingAndGlyphs">160</text>
<path d="M232.7,107.9 H235.7" stroke="#333" stroke-width="0.8"/>
<text x="232.2" y="111.3" font-family="Liberation Sans, sans-serif" font-size="6.5" text-anchor="end" fill="#2a2a2a" textLength="7.8" lengthAdjust="spacingAndGlyphs">120</text>
<path d="M232.7,118.4 H235.7" stroke="#333" stroke-width="0.8"/>
<text x="232.2" y="121.8" font-family="Liberation Sans, sans-serif" font-size="6.5" text-anchor="end" fill="#2a2a2a" textLength="5.2" lengthAdjust="spacingAndGlyphs">80</text>
<path d="M232.7,129.0 H235.7" stroke="#333" stroke-width="0.8"/>
<text x="232.2" y="132.4" font-family="Liberation Sans, sans-serif" font-size="6.5" text-anchor="end" fill="#2a2a2a" textLength="5.2" lengthAdjust="spacingAndGlyphs">40</text>
<path d="M232.7,139.6 H235.7" stroke="#333" stroke-width="0.8"/>
<text x="232.2" y="143.0" font-family="Liberation Sans, sans-serif" font-size="6.5" text-anchor="end" fill="#2a2a2a" textLength="2.6" lengthAdjust="spacingAndGlyphs">0</text>
<path d="M235.7,139.6 V142.0" stroke="#222" stroke-width="0.9"/>
<text x="234.7" y="149.2" font-family="Liberation Sans, sans-serif" font-size="5.4" text-anchor="middle" fill="#222">10<tspan font-size="3.8" dy="-2">0</tspan></text>
<path d="M264.9,139.6 V142.0" stroke="#222" stroke-width="0.9"/>
<text x="263.9" y="149.2" font-family="Liberation Sans, sans-serif" font-size="5.4" text-anchor="middle" fill="#222">10<tspan font-size="3.8" dy="-2">1</tspan></text>
<path d="M294.0,139.6 V142.0" stroke="#222" stroke-width="0.9"/>
<text x="293.0" y="149.2" font-family="Liberation Sans, sans-serif" font-size="5.4" text-anchor="middle" fill="#222">10<tspan font-size="3.8" dy="-2">2</tspan></text>
<path d="M323.1,139.6 V142.0" stroke="#222" stroke-width="0.9"/>
<text x="322.1" y="149.2" font-family="Liberation Sans, sans-serif" font-size="5.4" text-anchor="middle" fill="#222">10<tspan font-size="3.8" dy="-2">3</tspan></text>
<path d="M352.3,139.6 V142.0" stroke="#222" stroke-width="0.9"/>
<text x="351.3" y="149.2" font-family="Liberation Sans, sans-serif" font-size="5.4" text-anchor="middle" fill="#222">10<tspan font-size="3.8" dy="-2">4</tspan></text>
<text x="290.5" y="152.2" font-family="Liberation Sans, sans-serif" font-size="3.6" text-anchor="middle" fill="#c8c8c8">FL1-H</text>
<text x="350.0" y="118.6" font-family="Liberation Sans, sans-serif" font-size="5.9" text-anchor="end" fill="#222" textLength="5.6" lengthAdjust="spacingAndGlyphs">R2</text>
<text x="346.6" y="108.9" font-family="Liberation Sans, sans-serif" font-size="10.55" text-anchor="end" fill="#2a2a2a">71% (73)</text>
<path d="M236.50,210.80 L236.50,210.80 L237.00,210.70 L237.50,210.61 L238.00,210.51 L238.50,210.03 L239.00,210.43 L239.50,210.27 L240.00,209.62 L240.50,210.15 L241.00,209.21 L241.50,207.85 L242.00,207.81 L242.50,206.18 L243.00,206.45 L243.50,204.59 L244.00,203.75 L244.50,202.43 L245.00,199.62 L245.50,195.46 L246.00,198.28 L246.50,196.14 L247.00,192.34 L247.50,192.99 L248.00,189.23 L248.50,187.97 L249.00,188.28 L249.50,185.78 L250.00,188.19 L250.50,184.29 L251.00,189.02 L251.50,188.38 L252.00,188.95 L252.50,188.38 L253.00,185.94 L253.50,186.96 L254.00,190.48 L254.50,191.58 L255.00,192.51 L255.50,197.89 L256.00,199.30 L256.50,200.21 L257.00,203.41 L257.50,206.67 L258.00,204.49 L258.50,205.21 L259.00,208.46 L259.50,207.61 L260.00,207.77 L260.50,207.46 L261.00,207.63 L261.50,208.15 L262.00,208.59 L262.50,207.94 L263.00,207.42 L263.50,208.61 L264.00,208.57 L264.50,208.01 L265.00,209.08 L265.50,208.17 L266.00,208.30 L266.50,207.84 L267.00,208.50 L267.50,208.63 L268.00,208.39 L268.50,208.24 L269.00,208.59 L269.50,208.26 L270.00,207.91 L270.50,208.21 L271.00,208.53 L271.50,210.01 L272.00,210.33 L272.50,210.80 L273.00,209.61 L273.50,210.44 L274.00,210.22 L274.50,210.05 L275.00,210.65 L275.50,210.08 L276.00,210.23 L276.50,210.80 L277.00,210.14 L277.50,209.86 L278.00,210.80 L278.50,209.99 L279.00,210.18 L279.50,210.10 L280.00,210.11 L280.50,209.85 L281.00,210.33 L281.50,209.99 L282.00,210.39 L282.50,210.04 L283.00,210.52 L283.50,210.31 L284.00,209.74 L284.50,210.14 L285.00,210.33 L285.50,210.64 L286.00,210.53 L286.50,210.23 L287.00,210.01 L287.50,210.17 L288.00,209.98 L288.50,209.80 L289.00,208.87 L289.50,209.22 L290.00,208.95 L290.50,207.85 L291.00,207.91 L291.50,207.75 L292.00,207.58 L292.50,207.02 L293.00,206.02 L293.50,205.84 L294.00,206.72 L294.50,205.01 L295.00,204.82 L295.50,205.51 L296.00,203.41 L296.50,204.06 L297.00,203.72 L297.50,202.08 L298.00,201.03 L298.50,202.98 L299.00,201.21 L299.50,202.48 L300.00,197.86 L300.50,201.23 L301.00,198.44 L301.50,200.62 L302.00,197.85 L302.50,194.97 L303.00,202.17 L303.50,198.11 L304.00,195.95 L304.50,196.38 L305.00,196.79 L305.50,191.42 L306.00,194.36 L306.50,196.67 L307.00,191.80 L307.50,195.55 L308.00,190.04 L308.50,192.36 L309.00,190.50 L309.50,187.98 L310.00,189.30 L310.50,191.36 L311.00,191.38 L311.50,185.99 L312.00,186.24 L312.50,188.39 L313.00,185.04 L313.50,185.16 L314.00,184.40 L314.50,189.13 L315.00,185.59 L315.50,183.34 L316.00,183.41 L316.50,182.95 L317.00,188.41 L317.50,183.74 L318.00,182.98 L318.50,179.27 L319.00,185.30 L319.50,184.59 L320.00,184.32 L320.50,183.23 L321.00,185.84 L321.50,183.49 L322.00,187.13 L322.50,185.69 L323.00,187.40 L323.50,186.90 L324.00,189.01 L324.50,191.22 L325.00,187.31 L325.50,189.32 L326.00,191.45 L326.50,190.83 L327.00,190.15 L327.50,194.16 L328.00,193.30 L328.50,192.81 L329.00,193.45 L329.50,195.53 L330.00,199.16 L330.50,194.08 L331.00,196.25 L331.50,197.40 L332.00,198.50 L332.50,198.24 L333.00,199.92 L333.50,201.37 L334.00,201.52 L334.50,202.02 L335.00,202.74 L335.50,204.05 L336.00,202.81 L336.50,205.50 L337.00,204.38 L337.50,206.53 L338.00,206.20 L338.50,206.31 L339.00,207.43 L339.50,208.32 L340.00,208.22 L340.50,208.53 L341.00,209.74 L341.50,209.55 L342.00,209.59 L342.50,210.16 L343.00,210.05 L343.50,209.91 L344.00,209.98 L344.50,210.01 L345.00,210.19 L345.50,210.52 L346.00,210.51 L346.50,210.58 L347.00,210.65 L347.50,210.73 L348.00,210.80 L348.00,210.80Z" fill="#7d7d7d" stroke="none"/>
<path d="M236,168.8 H357.9 V210.8" fill="none" stroke="#6a6a6a" stroke-width="1.2"/>
<path d="M265.3,210.8 V181.2 H357.9" fill="none" stroke="#505050" stroke-width="1.1"/>
<path d="M236,168.8 V210.8" stroke="#333" stroke-width="1" fill="none"/>
<path d="M235,210.8 H358.4" stroke="#222" stroke-width="1.2" fill="none"/>
<path d="M233,168.8 H236" stroke="#333" stroke-width="0.8"/>
<text x="232.5" y="172.2" font-family="Liberation Sans, sans-serif" font-size="6.5" text-anchor="end" fill="#2a2a2a" textLength="7.8" lengthAdjust="spacingAndGlyphs">484</text>
<path d="M233,179.3 H236" stroke="#333" stroke-width="0.8"/>
<text x="232.5" y="182.7" font-family="Liberation Sans, sans-serif" font-size="6.5" text-anchor="end" fill="#2a2a2a" textLength="7.8" lengthAdjust="spacingAndGlyphs">363</text>
<path d="M233,189.8 H236" stroke="#333" stroke-width="0.8"/>
<text x="232.5" y="193.2" font-family="Liberation Sans, sans-serif" font-size="6.5" text-anchor="end" fill="#2a2a2a" textLength="7.8" lengthAdjust="spacingAndGlyphs">242</text>
<path d="M233,200.3 H236" stroke="#333" stroke-width="0.8"/>
<text x="232.5" y="203.7" font-family="Liberation Sans, sans-serif" font-size="6.5" text-anchor="end" fill="#2a2a2a" textLength="7.8" lengthAdjust="spacingAndGlyphs">121</text>
<path d="M233,210.8 H236" stroke="#333" stroke-width="0.8"/>
<text x="232.5" y="214.2" font-family="Liberation Sans, sans-serif" font-size="6.5" text-anchor="end" fill="#2a2a2a" textLength="2.6" lengthAdjust="spacingAndGlyphs">0</text>
<path d="M236.0,210.8 V213.20000000000002" stroke="#222" stroke-width="0.9"/>
<text x="235.0" y="220.4" font-family="Liberation Sans, sans-serif" font-size="5.4" text-anchor="middle" fill="#222">10<tspan font-size="3.8" dy="-2">0</tspan></text>
<path d="M266.5,210.8 V213.20000000000002" stroke="#222" stroke-width="0.9"/>
<text x="265.5" y="220.4" font-family="Liberation Sans, sans-serif" font-size="5.4" text-anchor="middle" fill="#222">10<tspan font-size="3.8" dy="-2">1</tspan></text>
<path d="M296.9,210.8 V213.20000000000002" stroke="#222" stroke-width="0.9"/>
<text x="295.9" y="220.4" font-family="Liberation Sans, sans-serif" font-size="5.4" text-anchor="middle" fill="#222">10<tspan font-size="3.8" dy="-2">2</tspan></text>
<path d="M327.4,210.8 V213.20000000000002" stroke="#222" stroke-width="0.9"/>
<text x="326.4" y="220.4" font-family="Liberation Sans, sans-serif" font-size="5.4" text-anchor="middle" fill="#222">10<tspan font-size="3.8" dy="-2">3</tspan></text>
<path d="M357.9,210.8 V213.20000000000002" stroke="#222" stroke-width="0.9"/>
<text x="356.9" y="220.4" font-family="Liberation Sans, sans-serif" font-size="5.4" text-anchor="middle" fill="#222">10<tspan font-size="3.8" dy="-2">4</tspan></text>
<text x="293.4" y="223.4" font-family="Liberation Sans, sans-serif" font-size="3.6" text-anchor="middle" fill="#c8c8c8">FL1-H</text>
<text x="355.59999999999997" y="187.0" font-family="Liberation Sans, sans-serif" font-size="5.9" text-anchor="end" fill="#222" textLength="5.6" lengthAdjust="spacingAndGlyphs">R2</text>
<text x="352.2" y="178.7" font-family="Liberation Sans, sans-serif" font-size="10.55" text-anchor="end" fill="#2a2a2a">74% (98)</text>
<path d="M245.00,276.50 L245.00,276.50 L245.50,276.45 L246.00,276.40 L246.50,276.35 L247.00,276.30 L247.50,276.25 L248.00,276.21 L248.50,276.23 L249.00,276.19 L249.50,276.10 L250.00,276.50 L250.50,276.05 L251.00,275.91 L251.50,276.16 L252.00,275.81 L252.50,275.47 L253.00,275.56 L253.50,274.57 L254.00,276.22 L254.50,275.13 L255.00,275.68 L255.50,274.32 L256.00,273.38 L256.50,275.64 L257.00,274.24 L257.50,273.83 L258.00,274.05 L258.50,273.37 L259.00,274.78 L259.50,272.75 L260.00,272.83 L260.50,272.84 L261.00,273.04 L261.50,272.00 L262.00,272.59 L262.50,271.86 L263.00,272.21 L263.50,273.33 L264.00,271.18 L264.50,270.58 L265.00,269.66 L265.50,270.82 L266.00,269.61 L266.50,268.53 L267.00,268.63 L267.50,266.98 L268.00,265.64 L268.50,268.29 L269.00,268.90 L269.50,264.13 L270.00,262.12 L270.50,262.11 L271.00,261.03 L271.50,262.00 L272.00,260.69 L272.50,256.49 L273.00,258.51 L273.50,259.00 L274.00,256.57 L274.50,249.60 L275.00,249.72 L275.50,254.11 L276.00,254.13 L276.50,252.45 L277.00,254.07 L277.50,250.52 L278.00,252.83 L278.50,254.49 L279.00,250.37 L279.50,253.54 L280.00,252.12 L280.50,252.47 L281.00,252.93 L281.50,251.80 L282.00,253.48 L282.50,255.39 L283.00,255.95 L283.50,254.30 L284.00,253.39 L284.50,252.09 L285.00,251.91 L285.50,251.16 L286.00,252.01 L286.50,253.67 L287.00,253.63 L287.50,256.13 L288.00,252.93 L288.50,251.92 L289.00,251.95 L289.50,253.16 L290.00,253.76 L290.50,252.66 L291.00,255.01 L291.50,254.56 L292.00,255.60 L292.50,257.01 L293.00,255.90 L293.50,259.68 L294.00,259.90 L294.50,261.25 L295.00,261.82 L295.50,258.41 L296.00,258.65 L296.50,262.19 L297.00,261.85 L297.50,261.42 L298.00,262.68 L298.50,262.70 L299.00,267.06 L299.50,266.51 L300.00,265.26 L300.50,264.23 L301.00,266.38 L301.50,267.96 L302.00,267.60 L302.50,268.28 L303.00,268.81 L303.50,266.32 L304.00,269.11 L304.50,268.68 L305.00,266.70 L305.50,268.10 L306.00,269.30 L306.50,270.55 L307.00,269.88 L307.50,269.11 L308.00,270.21 L308.50,269.77 L309.00,270.89 L309.50,270.65 L310.00,271.36 L310.50,270.94 L311.00,270.35 L311.50,272.65 L312.00,271.66 L312.50,271.53 L313.00,272.26 L313.50,272.16 L314.00,271.46 L314.50,270.69 L315.00,271.80 L315.50,272.13 L316.00,273.54 L316.50,271.26 L317.00,272.63 L317.50,272.81 L318.00,273.61 L318.50,273.03 L319.00,273.79 L319.50,273.17 L320.00,273.04 L320.50,273.40 L321.00,273.34 L321.50,274.08 L322.00,272.88 L322.50,274.13 L323.00,274.84 L323.50,274.05 L324.00,274.43 L324.50,274.64 L325.00,274.39 L325.50,274.16 L326.00,274.96 L326.50,274.54 L327.00,273.90 L327.50,274.34 L328.00,274.81 L328.50,274.77 L329.00,274.96 L329.50,275.00 L330.00,274.75 L330.50,275.15 L331.00,276.13 L331.50,275.26 L332.00,275.65 L332.50,275.14 L333.00,275.67 L333.50,275.46 L334.00,274.82 L334.50,276.01 L335.00,276.09 L335.50,276.24 L336.00,276.50 L336.50,276.50 L337.00,275.87 L337.50,276.24 L338.00,276.50 L338.50,276.50 L339.00,276.25 L339.50,276.31 L340.00,276.35 L340.50,276.38 L341.00,276.42 L341.50,276.46 L342.00,276.50 L342.00,276.50Z" fill="#7d7d7d" stroke="none"/>
<path d="M235.5,236.6 H358 V276.5" fill="none" stroke="#6a6a6a" stroke-width="1.2"/>
<path d="M271.4,276.5 V251.5 H358" fill="none" stroke="#505050" stroke-width="1.1"/>
<path d="M235.5,236.6 V276.5" stroke="#333" stroke-width="1" fill="none"/>
<path d="M234.5,276.5 H358.5" stroke="#222" stroke-width="1.2" fill="none"/>
<path d="M232.5,236.6 H235.5" stroke="#333" stroke-width="0.8"/>
<text x="232.0" y="240.0" font-family="Liberation Sans, sans-serif" font-size="6.5" text-anchor="end" fill="#2a2a2a" textLength="7.8" lengthAdjust="spacingAndGlyphs">205</text>
<path d="M232.5,246.6 H235.5" stroke="#333" stroke-width="0.8"/>
<text x="232.0" y="250.0" font-family="Liberation Sans, sans-serif" font-size="6.5" text-anchor="end" fill="#2a2a2a" textLength="7.8" lengthAdjust="spacingAndGlyphs">150</text>
<path d="M232.5,256.6 H235.5" stroke="#333" stroke-width="0.8"/>
<text x="232.0" y="259.9" font-family="Liberation Sans, sans-serif" font-size="6.5" text-anchor="end" fill="#2a2a2a" textLength="7.8" lengthAdjust="spacingAndGlyphs">100</text>
<path d="M232.5,266.5 H235.5" stroke="#333" stroke-width="0.8"/>
<text x="232.0" y="269.9" font-family="Liberation Sans, sans-serif" font-size="6.5" text-anchor="end" fill="#2a2a2a" textLength="5.2" lengthAdjust="spacingAndGlyphs">50</text>
<path d="M232.5,276.5 H235.5" stroke="#333" stroke-width="0.8"/>
<text x="232.0" y="279.9" font-family="Liberation Sans, sans-serif" font-size="6.5" text-anchor="end" fill="#2a2a2a" textLength="2.6" lengthAdjust="spacingAndGlyphs">0</text>
<path d="M235.5,276.5 V278.9" stroke="#222" stroke-width="0.9"/>
<text x="234.5" y="286.1" font-family="Liberation Sans, sans-serif" font-size="5.4" text-anchor="middle" fill="#222">10<tspan font-size="3.8" dy="-2">0</tspan></text>
<path d="M266.1,276.5 V278.9" stroke="#222" stroke-width="0.9"/>
<text x="265.1" y="286.1" font-family="Liberation Sans, sans-serif" font-size="5.4" text-anchor="middle" fill="#222">10<tspan font-size="3.8" dy="-2">1</tspan></text>
<path d="M296.8,276.5 V278.9" stroke="#222" stroke-width="0.9"/>
<text x="295.8" y="286.1" font-family="Liberation Sans, sans-serif" font-size="5.4" text-anchor="middle" fill="#222">10<tspan font-size="3.8" dy="-2">2</tspan></text>
<path d="M327.4,276.5 V278.9" stroke="#222" stroke-width="0.9"/>
<text x="326.4" y="286.1" font-family="Liberation Sans, sans-serif" font-size="5.4" text-anchor="middle" fill="#222">10<tspan font-size="3.8" dy="-2">3</tspan></text>
<path d="M358.0,276.5 V278.9" stroke="#222" stroke-width="0.9"/>
<text x="357.0" y="286.1" font-family="Liberation Sans, sans-serif" font-size="5.4" text-anchor="middle" fill="#222">10<tspan font-size="3.8" dy="-2">4</tspan></text>
<text x="293.2" y="289.1" font-family="Liberation Sans, sans-serif" font-size="3.6" text-anchor="middle" fill="#c8c8c8">FL1-H</text>
<text x="355.7" y="257.3" font-family="Liberation Sans, sans-serif" font-size="5.9" text-anchor="end" fill="#222" textLength="5.6" lengthAdjust="spacingAndGlyphs">R2</text>
<text x="352.3" y="247.6" font-family="Liberation Sans, sans-serif" font-size="10.55" text-anchor="end" fill="#2a2a2a">85% (263)</text>
<path d="M391.80,73.20 L391.80,72.30 L392.30,72.34 L392.80,71.76 L393.30,70.99 L393.80,69.99 L394.30,68.28 L394.80,67.59 L395.30,67.10 L395.80,65.89 L396.30,62.83 L396.80,61.84 L397.30,62.59 L397.80,59.83 L398.30,58.54 L398.80,57.39 L399.30,56.77 L399.80,56.55 L400.30,53.53 L400.80,53.57 L401.30,47.19 L401.80,47.17 L402.30,49.28 L402.80,44.00 L403.30,44.00 L403.80,47.90 L404.30,40.67 L404.80,43.41 L405.30,42.26 L405.80,48.84 L406.30,46.83 L406.80,47.99 L407.30,49.42 L407.80,50.80 L408.30,50.63 L408.80,56.29 L409.30,57.19 L409.80,58.77 L410.30,58.79 L410.80,60.48 L411.30,60.47 L411.80,62.28 L412.30,64.22 L412.80,66.14 L413.30,66.65 L413.80,66.13 L414.30,67.18 L414.80,68.56 L415.30,69.23 L415.80,68.19 L416.30,69.89 L416.80,69.34 L417.30,69.31 L417.80,70.40 L418.30,70.05 L418.80,71.33 L419.30,70.50 L419.80,71.16 L420.30,72.18 L420.80,71.46 L421.30,72.32 L421.80,71.75 L422.30,72.68 L422.80,72.69 L423.30,72.64 L423.80,72.91 L424.30,72.90 L424.80,72.99 L425.30,73.08 L425.80,73.16 L426.00,73.20Z" fill="#7d7d7d" stroke="none"/>
<path d="M391,29.6 H512.6 V73.2" fill="none" stroke="#6a6a6a" stroke-width="1.2"/>
<path d="M427.3,73.2 V45.4 H512.6" fill="none" stroke="#505050" stroke-width="1.1"/>
<path d="M391,29.6 V73.2" stroke="#333" stroke-width="1" fill="none"/>
<path d="M390,73.2 H513.1" stroke="#222" stroke-width="1.2" fill="none"/>
<path d="M388,29.6 H391" stroke="#333" stroke-width="0.8"/>
<text x="387.5" y="33.0" font-family="Liberation Sans, sans-serif" font-size="6.5" text-anchor="end" fill="#2a2a2a" textLength="7.8" lengthAdjust="spacingAndGlyphs">537</text>
<path d="M388,40.5 H391" stroke="#333" stroke-width="0.8"/>
<text x="387.5" y="43.9" font-family="Liberation Sans, sans-serif" font-size="6.5" text-anchor="end" fill="#2a2a2a" textLength="7.8" lengthAdjust="spacingAndGlyphs">402</text>
<path d="M388,51.4 H391" stroke="#333" stroke-width="0.8"/>
<text x="387.5" y="54.8" font-family="Liberation Sans, sans-serif" font-size="6.5" text-anchor="end" fill="#2a2a2a" textLength="7.8" lengthAdjust="spacingAndGlyphs">268</text>
<path d="M388,62.3 H391" stroke="#333" stroke-width="0.8"/>
<text x="387.5" y="65.7" font-family="Liberation Sans, sans-serif" font-size="6.5" text-anchor="end" fill="#2a2a2a" textLength="7.8" lengthAdjust="spacingAndGlyphs">134</text>
<path d="M388,73.2 H391" stroke="#333" stroke-width="0.8"/>
<text x="387.5" y="76.6" font-family="Liberation Sans, sans-serif" font-size="6.5" text-anchor="end" fill="#2a2a2a" textLength="2.6" lengthAdjust="spacingAndGlyphs">0</text>
<path d="M391.0,73.2 V75.60000000000001" stroke="#222" stroke-width="0.9"/>
<text x="390.0" y="82.8" font-family="Liberation Sans, sans-serif" font-size="5.4" text-anchor="middle" fill="#222">10<tspan font-size="3.8" dy="-2">0</tspan></text>
<path d="M421.4,73.2 V75.60000000000001" stroke="#222" stroke-width="0.9"/>
<text x="420.4" y="82.8" font-family="Liberation Sans, sans-serif" font-size="5.4" text-anchor="middle" fill="#222">10<tspan font-size="3.8" dy="-2">1</tspan></text>
<path d="M451.8,73.2 V75.60000000000001" stroke="#222" stroke-width="0.9"/>
<text x="450.8" y="82.8" font-family="Liberation Sans, sans-serif" font-size="5.4" text-anchor="middle" fill="#222">10<tspan font-size="3.8" dy="-2">2</tspan></text>
<path d="M482.2,73.2 V75.60000000000001" stroke="#222" stroke-width="0.9"/>
<text x="481.2" y="82.8" font-family="Liberation Sans, sans-serif" font-size="5.4" text-anchor="middle" fill="#222">10<tspan font-size="3.8" dy="-2">3</tspan></text>
<path d="M512.6,73.2 V75.60000000000001" stroke="#222" stroke-width="0.9"/>
<text x="511.6" y="82.8" font-family="Liberation Sans, sans-serif" font-size="5.4" text-anchor="middle" fill="#222">10<tspan font-size="3.8" dy="-2">4</tspan></text>
<text x="448.3" y="85.8" font-family="Liberation Sans, sans-serif" font-size="3.6" text-anchor="middle" fill="#c8c8c8">FL1-H</text>
<text x="510.3" y="51.2" font-family="Liberation Sans, sans-serif" font-size="5.9" text-anchor="end" fill="#222" textLength="5.6" lengthAdjust="spacingAndGlyphs">R2</text>
<path d="M397.30,138.30 L397.30,121.56 L397.80,122.35 L398.30,119.68 L398.80,120.23 L399.30,119.04 L399.80,123.08 L400.30,115.43 L400.80,116.35 L401.30,118.51 L401.80,114.44 L402.30,112.93 L402.80,111.03 L403.30,114.08 L403.80,109.18 L404.30,111.64 L404.80,107.89 L405.30,113.48 L405.80,113.34 L406.30,115.05 L406.80,115.38 L407.30,110.67 L407.80,110.04 L408.30,109.00 L408.80,110.86 L409.30,113.99 L409.80,116.55 L410.30,115.63 L410.80,116.55 L411.30,117.66 L411.80,116.16 L412.30,117.44 L412.80,119.28 L413.30,119.35 L413.80,120.72 L414.30,121.10 L414.80,121.28 L415.30,122.03 L415.80,125.93 L416.30,128.30 L416.80,124.82 L417.30,127.90 L417.80,127.53 L418.30,131.66 L418.80,130.80 L419.30,131.15 L419.80,133.29 L420.30,133.11 L420.80,132.83 L421.30,133.00 L421.80,132.83 L422.30,134.77 L422.80,135.30 L423.30,134.16 L423.80,134.08 L424.30,134.74 L424.80,135.83 L425.30,134.76 L425.80,134.94 L426.30,135.13 L426.80,135.59 L427.30,134.99 L427.80,134.55 L428.30,135.25 L428.80,135.94 L429.30,134.41 L429.80,134.17 L430.30,134.35 L430.80,133.61 L431.30,134.53 L431.80,134.06 L432.30,134.10 L432.80,133.34 L433.30,132.43 L433.80,133.72 L434.30,131.79 L434.80,132.07 L435.30,132.54 L435.80,132.58 L436.30,131.46 L436.80,132.91 L437.30,132.60 L437.80,133.22 L438.30,131.55 L438.80,130.44 L439.30,130.97 L439.80,130.82 L440.30,131.21 L440.80,130.57 L441.30,132.08 L441.80,129.06 L442.30,130.48 L442.80,131.07 L443.30,130.42 L443.80,130.28 L444.30,127.91 L444.80,127.37 L445.30,130.30 L445.80,126.99 L446.30,126.77 L446.80,128.57 L447.30,129.64 L447.80,128.35 L448.30,127.96 L448.80,126.26 L449.30,127.09 L449.80,129.48 L450.30,125.68 L450.80,128.46 L451.30,124.55 L451.80,127.93 L452.30,127.11 L452.80,127.37 L453.30,126.87 L453.80,123.92 L454.30,124.63 L454.80,125.04 L455.30,125.49 L455.80,128.48 L456.30,126.83 L456.80,127.33 L457.30,128.52 L457.80,126.94 L458.30,129.26 L458.80,129.76 L459.30,130.72 L459.80,132.42 L460.30,129.97 L460.80,129.77 L461.30,131.22 L461.80,132.61 L462.30,134.48 L462.80,131.99 L463.30,131.31 L463.80,132.39 L464.30,132.12 L464.80,131.94 L465.30,132.51 L465.80,133.99 L466.30,133.13 L466.80,133.60 L467.30,135.44 L467.80,134.90 L468.30,135.69 L468.80,135.00 L469.30,134.74 L469.80,135.87 L470.30,136.56 L470.80,134.83 L471.30,135.49 L471.80,135.08 L472.30,136.67 L472.80,135.64 L473.30,135.33 L473.80,135.55 L474.30,136.70 L474.80,136.62 L475.30,136.90 L475.80,136.53 L476.30,136.61 L476.80,137.08 L477.30,137.71 L477.80,137.04 L478.30,137.56 L478.80,137.28 L479.30,137.50 L479.80,137.16 L480.30,137.42 L480.80,138.00 L481.30,137.86 L481.80,138.04 L482.30,138.10 L482.80,138.16 L483.30,138.22 L483.80,138.28 L484.00,138.30Z" fill="#7d7d7d" stroke="none"/>
<path d="M397,97.2 H518.2 V138.3" fill="none" stroke="#6a6a6a" stroke-width="1.2"/>
<path d="M431.8,138.3 V112.2 H518.2" fill="none" stroke="#505050" stroke-width="1.1"/>
<path d="M397,97.2 V138.3" stroke="#333" stroke-width="1" fill="none"/>
<path d="M396,138.3 H518.7" stroke="#222" stroke-width="1.2" fill="none"/>
<path d="M394,97.2 H397" stroke="#333" stroke-width="0.8"/>
<text x="393.5" y="100.6" font-family="Liberation Sans, sans-serif" font-size="6.5" text-anchor="end" fill="#2a2a2a" textLength="7.8" lengthAdjust="spacingAndGlyphs">172</text>
<path d="M394,107.5 H397" stroke="#333" stroke-width="0.8"/>
<text x="393.5" y="110.9" font-family="Liberation Sans, sans-serif" font-size="6.5" text-anchor="end" fill="#2a2a2a" textLength="7.8" lengthAdjust="spacingAndGlyphs">129</text>
<path d="M394,117.8 H397" stroke="#333" stroke-width="0.8"/>
<text x="393.5" y="121.2" font-family="Liberation Sans, sans-serif" font-size="6.5" text-anchor="end" fill="#2a2a2a" textLength="5.2" lengthAdjust="spacingAndGlyphs">86</text>
<path d="M394,128.0 H397" stroke="#333" stroke-width="0.8"/>
<text x="393.5" y="131.4" font-family="Liberation Sans, sans-serif" font-size="6.5" text-anchor="end" fill="#2a2a2a" textLength="5.2" lengthAdjust="spacingAndGlyphs">43</text>
<path d="M394,138.3 H397" stroke="#333" stroke-width="0.8"/>
<text x="393.5" y="141.7" font-family="Liberation Sans, sans-serif" font-size="6.5" text-anchor="end" fill="#2a2a2a" textLength="2.6" lengthAdjust="spacingAndGlyphs">0</text>
<path d="M397.0,138.3 V140.70000000000002" stroke="#222" stroke-width="0.9"/>
<text x="396.0" y="147.9" font-family="Liberation Sans, sans-serif" font-size="5.4" text-anchor="middle" fill="#222">10<tspan font-size="3.8" dy="-2">0</tspan></text>
<path d="M427.3,138.3 V140.70000000000002" stroke="#222" stroke-width="0.9"/>
<text x="426.3" y="147.9" font-family="Liberation Sans, sans-serif" font-size="5.4" text-anchor="middle" fill="#222">10<tspan font-size="3.8" dy="-2">1</tspan></text>
<path d="M457.6,138.3 V140.70000000000002" stroke="#222" stroke-width="0.9"/>
<text x="456.6" y="147.9" font-family="Liberation Sans, sans-serif" font-size="5.4" text-anchor="middle" fill="#222">10<tspan font-size="3.8" dy="-2">2</tspan></text>
<path d="M487.9,138.3 V140.70000000000002" stroke="#222" stroke-width="0.9"/>
<text x="486.9" y="147.9" font-family="Liberation Sans, sans-serif" font-size="5.4" text-anchor="middle" fill="#222">10<tspan font-size="3.8" dy="-2">3</tspan></text>
<path d="M518.2,138.3 V140.70000000000002" stroke="#222" stroke-width="0.9"/>
<text x="517.2" y="147.9" font-family="Liberation Sans, sans-serif" font-size="5.4" text-anchor="middle" fill="#222">10<tspan font-size="3.8" dy="-2">4</tspan></text>
<text x="454.1" y="150.9" font-family="Liberation Sans, sans-serif" font-size="3.6" text-anchor="middle" fill="#c8c8c8">FL1-H</text>
<text x="515.9000000000001" y="118.0" font-family="Liberation Sans, sans-serif" font-size="5.9" text-anchor="end" fill="#222" textLength="5.6" lengthAdjust="spacingAndGlyphs">R2</text>
<text x="512.5" y="108.3" font-family="Liberation Sans, sans-serif" font-size="10.55" text-anchor="end" fill="#2a2a2a">33% (98)</text>
<path d="M397.80,205.50 L397.80,202.07 L398.30,202.87 L398.80,201.86 L399.30,200.90 L399.80,200.36 L400.30,200.43 L400.80,201.46 L401.30,200.22 L401.80,197.11 L402.30,195.27 L402.80,190.35 L403.30,193.99 L403.80,189.00 L404.30,188.01 L404.80,190.76 L405.30,187.97 L405.80,184.95 L406.30,184.72 L406.80,182.80 L407.30,180.82 L407.80,182.36 L408.30,179.56 L408.80,180.80 L409.30,180.01 L409.80,178.03 L410.30,180.52 L410.80,179.66 L411.30,178.04 L411.80,181.74 L412.30,183.35 L412.80,183.16 L413.30,186.35 L413.80,185.20 L414.30,190.48 L414.80,188.49 L415.30,191.65 L415.80,193.38 L416.30,190.44 L416.80,195.75 L417.30,193.43 L417.80,195.90 L418.30,195.96 L418.80,199.47 L419.30,198.24 L419.80,199.03 L420.30,201.20 L420.80,202.08 L421.30,200.69 L421.80,202.29 L422.30,202.83 L422.80,203.14 L423.30,202.75 L423.80,203.02 L424.30,203.30 L424.80,202.79 L425.30,203.87 L425.80,203.58 L426.30,203.22 L426.80,204.33 L427.30,203.53 L427.80,203.28 L428.30,204.64 L428.80,204.59 L429.30,204.62 L429.80,204.99 L430.30,204.12 L430.80,205.00 L431.30,204.10 L431.80,203.73 L432.30,204.90 L432.80,204.40 L433.30,205.02 L433.80,203.97 L434.30,204.56 L434.80,204.37 L435.30,204.24 L435.80,204.05 L436.30,204.39 L436.80,204.25 L437.30,204.46 L437.80,204.20 L438.30,204.70 L438.80,204.22 L439.30,204.99 L439.80,204.43 L440.30,203.49 L440.80,204.20 L441.30,204.72 L441.80,204.12 L442.30,204.60 L442.80,204.86 L443.30,204.50 L443.80,203.92 L444.30,204.05 L444.80,204.24 L445.30,204.54 L445.80,204.55 L446.30,203.52 L446.80,203.92 L447.30,204.37 L447.80,204.81 L448.30,204.46 L448.80,202.74 L449.30,204.28 L449.80,203.75 L450.30,203.58 L450.80,203.69 L451.30,203.70 L451.80,204.16 L452.30,203.97 L452.80,202.61 L453.30,203.74 L453.80,202.91 L454.30,204.11 L454.80,203.36 L455.30,203.03 L455.80,202.56 L456.30,203.62 L456.80,202.65 L457.30,202.70 L457.80,203.24 L458.30,202.51 L458.80,203.21 L459.30,203.10 L459.80,202.59 L460.30,204.09 L460.80,202.52 L461.30,202.98 L461.80,203.20 L462.30,202.52 L462.80,201.73 L463.30,202.38 L463.80,201.28 L464.30,202.74 L464.80,202.78 L465.30,200.87 L465.80,201.55 L466.30,201.13 L466.80,202.28 L467.30,201.33 L467.80,201.82 L468.30,201.71 L468.80,202.22 L469.30,201.65 L469.80,202.87 L470.30,203.17 L470.80,203.57 L471.30,202.31 L471.80,203.51 L472.30,203.85 L472.80,203.98 L473.30,203.95 L473.80,204.50 L474.30,204.29 L474.80,204.61 L475.30,204.78 L475.80,205.11 L476.30,204.99 L476.80,205.21 L477.30,205.42 L477.50,205.50Z" fill="#7d7d7d" stroke="none"/>
<path d="M397.5,165 H518.2 V205.5" fill="none" stroke="#6a6a6a" stroke-width="1.2"/>
<path d="M432.7,205.5 V179.8 H518.2" fill="none" stroke="#505050" stroke-width="1.1"/>
<path d="M397.5,165 V205.5" stroke="#333" stroke-width="1" fill="none"/>
<path d="M396.5,205.5 H518.7" stroke="#222" stroke-width="1.2" fill="none"/>
<path d="M394.5,165.0 H397.5" stroke="#333" stroke-width="0.8"/>
<text x="394.0" y="168.4" font-family="Liberation Sans, sans-serif" font-size="6.5" text-anchor="end" fill="#2a2a2a" textLength="7.8" lengthAdjust="spacingAndGlyphs">399</text>
<path d="M394.5,175.1 H397.5" stroke="#333" stroke-width="0.8"/>
<text x="394.0" y="178.5" font-family="Liberation Sans, sans-serif" font-size="6.5" text-anchor="end" fill="#2a2a2a" textLength="7.8" lengthAdjust="spacingAndGlyphs">299</text>
<path d="M394.5,185.2 H397.5" stroke="#333" stroke-width="0.8"/>
<text x="394.0" y="188.7" font-family="Liberation Sans, sans-serif" font-size="6.5" text-anchor="end" fill="#2a2a2a" textLength="7.8" lengthAdjust="spacingAndGlyphs">199</text>
<path d="M394.5,195.4 H397.5" stroke="#333" stroke-width="0.8"/>
<text x="394.0" y="198.8" font-family="Liberation Sans, sans-serif" font-size="6.5" text-anchor="end" fill="#2a2a2a" textLength="5.2" lengthAdjust="spacingAndGlyphs">99</text>
<path d="M394.5,205.5 H397.5" stroke="#333" stroke-width="0.8"/>
<text x="394.0" y="208.9" font-family="Liberation Sans, sans-serif" font-size="6.5" text-anchor="end" fill="#2a2a2a" textLength="2.6" lengthAdjust="spacingAndGlyphs">0</text>
<path d="M397.5,205.5 V207.9" stroke="#222" stroke-width="0.9"/>
<text x="396.5" y="215.1" font-family="Liberation Sans, sans-serif" font-size="5.4" text-anchor="middle" fill="#222">10<tspan font-size="3.8" dy="-2">0</tspan></text>
<path d="M427.7,205.5 V207.9" stroke="#222" stroke-width="0.9"/>
<text x="426.7" y="215.1" font-family="Liberation Sans, sans-serif" font-size="5.4" text-anchor="middle" fill="#222">10<tspan font-size="3.8" dy="-2">1</tspan></text>
<path d="M457.9,205.5 V207.9" stroke="#222" stroke-width="0.9"/>
<text x="456.9" y="215.1" font-family="Liberation Sans, sans-serif" font-size="5.4" text-anchor="middle" fill="#222">10<tspan font-size="3.8" dy="-2">2</tspan></text>
<path d="M488.0,205.5 V207.9" stroke="#222" stroke-width="0.9"/>
<text x="487.0" y="215.1" font-family="Liberation Sans, sans-serif" font-size="5.4" text-anchor="middle" fill="#222">10<tspan font-size="3.8" dy="-2">3</tspan></text>
<path d="M518.2,205.5 V207.9" stroke="#222" stroke-width="0.9"/>
<text x="517.2" y="215.1" font-family="Liberation Sans, sans-serif" font-size="5.4" text-anchor="middle" fill="#222">10<tspan font-size="3.8" dy="-2">4</tspan></text>
<text x="454.4" y="218.1" font-family="Liberation Sans, sans-serif" font-size="3.6" text-anchor="middle" fill="#c8c8c8">FL1-H</text>
<text x="515.9000000000001" y="185.6" font-family="Liberation Sans, sans-serif" font-size="5.9" text-anchor="end" fill="#222" textLength="5.6" lengthAdjust="spacingAndGlyphs">R2</text>
<text x="512.5" y="175.9" font-family="Liberation Sans, sans-serif" font-size="10.55" text-anchor="end" fill="#2a2a2a">21% (107)</text>
<path d="M397.30,277.30 L397.30,273.33 L397.80,272.25 L398.30,271.47 L398.80,270.71 L399.30,272.55 L399.80,270.02 L400.30,269.50 L400.80,266.62 L401.30,268.97 L401.80,266.92 L402.30,265.42 L402.80,264.63 L403.30,261.47 L403.80,263.06 L404.30,259.86 L404.80,263.18 L405.30,262.95 L405.80,256.98 L406.30,257.50 L406.80,256.60 L407.30,256.40 L407.80,254.98 L408.30,257.00 L408.80,252.46 L409.30,254.11 L409.80,250.67 L410.30,251.62 L410.80,254.74 L411.30,253.18 L411.80,248.69 L412.30,250.63 L412.80,251.54 L413.30,250.93 L413.80,252.53 L414.30,253.60 L414.80,253.62 L415.30,254.67 L415.80,253.45 L416.30,257.07 L416.80,255.13 L417.30,256.47 L417.80,257.83 L418.30,260.15 L418.80,262.94 L419.30,264.14 L419.80,265.80 L420.30,267.82 L420.80,268.08 L421.30,269.46 L421.80,267.56 L422.30,269.54 L422.80,271.22 L423.30,273.19 L423.80,272.23 L424.30,273.19 L424.80,274.30 L425.30,274.81 L425.80,275.72 L426.30,274.48 L426.80,275.14 L427.30,274.26 L427.80,275.73 L428.30,275.85 L428.80,275.26 L429.30,275.87 L429.80,275.93 L430.30,276.21 L430.80,276.36 L431.30,275.65 L431.80,275.91 L432.30,275.69 L432.80,276.43 L433.30,276.30 L433.80,276.63 L434.30,275.97 L434.80,276.82 L435.30,276.12 L435.80,275.94 L436.30,275.83 L436.80,276.67 L437.30,275.95 L437.80,276.60 L438.30,276.62 L438.80,276.82 L439.30,275.95 L439.80,275.78 L440.30,276.58 L440.80,276.64 L441.30,276.49 L441.80,275.50 L442.30,276.03 L442.80,276.58 L443.30,277.02 L443.80,276.63 L444.30,275.98 L444.80,275.75 L445.30,276.50 L445.80,276.65 L446.30,276.59 L446.80,277.07 L447.30,276.11 L447.80,276.80 L448.30,276.06 L448.80,277.02 L449.30,276.87 L449.80,276.34 L450.30,276.71 L450.80,276.18 L451.30,276.45 L451.80,276.86 L452.30,276.25 L452.80,276.18 L453.30,277.12 L453.80,275.85 L454.30,276.31 L454.80,276.22 L455.30,277.12 L455.80,276.73 L456.30,276.61 L456.80,276.13 L457.30,276.99 L457.80,276.80 L458.30,277.19 L458.80,276.59 L459.30,276.40 L459.80,277.09 L460.30,276.72 L460.80,276.36 L461.30,276.00 L461.80,276.31 L462.30,276.64 L462.80,276.94 L463.30,276.86 L463.80,276.77 L464.30,276.51 L464.80,276.58 L465.30,276.01 L465.80,276.47 L466.30,276.92 L466.80,276.07 L467.30,276.27 L467.80,276.55 L468.30,276.82 L468.80,277.20 L469.30,276.93 L469.80,276.30 L470.30,276.88 L470.80,277.08 L471.30,276.63 L471.80,276.65 L472.30,276.57 L472.80,276.60 L473.30,276.41 L473.80,277.12 L474.30,276.61 L474.80,277.22 L475.30,276.77 L475.80,277.01 L476.30,277.04 L476.80,277.08 L477.30,277.11 L477.80,277.15 L478.30,277.18 L478.80,277.22 L479.30,277.25 L479.80,277.29 L480.00,277.30Z" fill="#7d7d7d" stroke="none"/>
<path d="M397,236.7 H518.2 V277.3" fill="none" stroke="#6a6a6a" stroke-width="1.2"/>
<path d="M432.5,277.3 V251.6 H518.2" fill="none" stroke="#505050" stroke-width="1.1"/>
<path d="M397,236.7 V277.3" stroke="#333" stroke-width="1" fill="none"/>
<path d="M396,277.3 H518.7" stroke="#222" stroke-width="1.2" fill="none"/>
<path d="M394,236.7 H397" stroke="#333" stroke-width="0.8"/>
<text x="393.5" y="240.1" font-family="Liberation Sans, sans-serif" font-size="6.5" text-anchor="end" fill="#2a2a2a" textLength="7.8" lengthAdjust="spacingAndGlyphs">279</text>
<path d="M394,246.8 H397" stroke="#333" stroke-width="0.8"/>
<text x="393.5" y="250.2" font-family="Liberation Sans, sans-serif" font-size="6.5" text-anchor="end" fill="#2a2a2a" textLength="7.8" lengthAdjust="spacingAndGlyphs">209</text>
<path d="M394,257.0 H397" stroke="#333" stroke-width="0.8"/>
<text x="393.5" y="260.4" font-family="Liberation Sans, sans-serif" font-size="6.5" text-anchor="end" fill="#2a2a2a" textLength="7.8" lengthAdjust="spacingAndGlyphs">139</text>
<path d="M394,267.1 H397" stroke="#333" stroke-width="0.8"/>
<text x="393.5" y="270.5" font-family="Liberation Sans, sans-serif" font-size="6.5" text-anchor="end" fill="#2a2a2a" textLength="5.2" lengthAdjust="spacingAndGlyphs">69</text>
<path d="M394,277.3 H397" stroke="#333" stroke-width="0.8"/>
<text x="393.5" y="280.7" font-family="Liberation Sans, sans-serif" font-size="6.5" text-anchor="end" fill="#2a2a2a" textLength="2.6" lengthAdjust="spacingAndGlyphs">0</text>
<path d="M397.0,277.3 V279.7" stroke="#222" stroke-width="0.9"/>
<text x="396.0" y="286.9" font-family="Liberation Sans, sans-serif" font-size="5.4" text-anchor="middle" fill="#222">10<tspan font-size="3.8" dy="-2">0</tspan></text>
<path d="M427.3,277.3 V279.7" stroke="#222" stroke-width="0.9"/>
<text x="426.3" y="286.9" font-family="Liberation Sans, sans-serif" font-size="5.4" text-anchor="middle" fill="#222">10<tspan font-size="3.8" dy="-2">1</tspan></text>
<path d="M457.6,277.3 V279.7" stroke="#222" stroke-width="0.9"/>
<text x="456.6" y="286.9" font-family="Liberation Sans, sans-serif" font-size="5.4" text-anchor="middle" fill="#222">10<tspan font-size="3.8" dy="-2">2</tspan></text>
<path d="M487.9,277.3 V279.7" stroke="#222" stroke-width="0.9"/>
<text x="486.9" y="286.9" font-family="Liberation Sans, sans-serif" font-size="5.4" text-anchor="middle" fill="#222">10<tspan font-size="3.8" dy="-2">3</tspan></text>
<path d="M518.2,277.3 V279.7" stroke="#222" stroke-width="0.9"/>
<text x="517.2" y="286.9" font-family="Liberation Sans, sans-serif" font-size="5.4" text-anchor="middle" fill="#222">10<tspan font-size="3.8" dy="-2">4</tspan></text>
<text x="454.1" y="289.9" font-family="Liberation Sans, sans-serif" font-size="3.6" text-anchor="middle" fill="#c8c8c8">FL1-H</text>
<text x="515.9000000000001" y="257.4" font-family="Liberation Sans, sans-serif" font-size="5.9" text-anchor="end" fill="#222" textLength="5.6" lengthAdjust="spacingAndGlyphs">R2</text>
<text x="512.5" y="247.7" font-family="Liberation Sans, sans-serif" font-size="10.55" text-anchor="end" fill="#2a2a2a">11% (249)</text>
<text x="0.5" y="12.6" font-family="Liberation Sans, sans-serif" font-weight="bold" font-size="17.5" text-anchor="start" fill="#000" >A</text>
<text x="1.6" y="328.8" font-family="Liberation Sans, sans-serif" font-weight="bold" font-size="16.4" text-anchor="start" fill="#000" >B</text>
<text x="119" y="17.7" font-family="Liberation Sans, sans-serif" font-weight="bold" font-size="12.4" text-anchor="start" fill="#000" >Jurkat</text>
<text x="286.5" y="17.5" font-family="Liberation Sans, sans-serif" font-weight="bold" font-size="12.4" text-anchor="start" fill="#000" >K562</text>
<text x="447" y="17.7" font-family="Liberation Sans, sans-serif" font-weight="bold" font-size="12.4" text-anchor="start" fill="#000" >HeLa</text>
<text x="0" y="51.5" font-family="Liberation Sans, sans-serif" font-weight="bold" font-size="12.5" text-anchor="start" fill="#000" >Control</text>
<text x="2.3" y="121.5" font-family="Liberation Sans, sans-serif" font-weight="bold" font-size="12.4" text-anchor="start" fill="#000" >A2UCOE</text>
<text x="0" y="185.6" font-family="Liberation Sans, sans-serif" font-weight="bold" font-size="12.2" text-anchor="start" fill="#000" >SFFV</text>
<text x="0" y="254.7" font-family="Liberation Sans, sans-serif" font-weight="bold" font-size="12.4" text-anchor="start" fill="#000" >CMV</text>
<text x="476.6" y="300.8" font-family="Liberation Sans, sans-serif" font-weight="bold" font-size="12.4" text-anchor="start" fill="#000" >EGFP</text>
<path d="M63,298.5 H450" stroke="#000" stroke-width="1.5"/>
<path d="M449,295 L457.5,298.5 L449,302.2 Z" fill="#000"/>
<path d="M152.8,331.5 V411.3" stroke="#000" stroke-width="1.3"/>
<path d="M152.8,421 V501.3 H433.5" stroke="#000" stroke-width="1.3" fill="none"/>
<path d="M147,416.3 L158.7,406.5 M147,426.2 L158.7,416.3" stroke="#555" stroke-width="0.8"/>
<path d="M149.5,331.5 H152.8" stroke="#000" stroke-width="1.2"/>
<path d="M149.5,371.5 H152.8" stroke="#000" stroke-width="1.2"/>
<path d="M149.5,440.9 H152.8" stroke="#000" stroke-width="1.2"/>
<path d="M149.5,461.0 H152.8" stroke="#000" stroke-width="1.2"/>
<path d="M149.5,481.2 H152.8" stroke="#000" stroke-width="1.2"/>
<path d="M149.5,501.3 H152.8" stroke="#000" stroke-width="1.2"/>
<text x="145" y="334.6" font-family="Liberation Sans, sans-serif" font-weight="bold" font-size="8.9" text-anchor="end" fill="#000" >4000</text>
<text x="145" y="374.6" font-family="Liberation Sans, sans-serif" font-weight="bold" font-size="8.9" text-anchor="end" fill="#000" >3000</text>
<text x="145" y="414.40000000000003" font-family="Liberation Sans, sans-serif" font-weight="bold" font-size="8.9" text-anchor="end" fill="#000" >2000</text>
<text x="145" y="424.3" font-family="Liberation Sans, sans-serif" font-weight="bold" font-size="8.9" text-anchor="end" fill="#000" >400</text>
<text x="145" y="444.0" font-family="Liberation Sans, sans-serif" font-weight="bold" font-size="8.9" text-anchor="end" fill="#000" >300</text>
<text x="145" y="464.1" font-family="Liberation Sans, sans-serif" font-weight="bold" font-size="8.9" text-anchor="end" fill="#000" >200</text>
<text x="145" y="484.3" font-family="Liberation Sans, sans-serif" font-weight="bold" font-size="8.9" text-anchor="end" fill="#000" >100</text>
<text x="145" y="504.40000000000003" font-family="Liberation Sans, sans-serif" font-weight="bold" font-size="8.9" text-anchor="end" fill="#000" >0</text>
<text transform="translate(108.6,418) rotate(-90)" font-family="Liberation Sans, sans-serif" font-weight="bold" font-size="12.6" text-anchor="middle" fill="#000">Mean Florescence Intensity</text>
<path d="M222.5,501.3 V504 M362.5,501.3 V504" stroke="#000" stroke-width="1"/>
<rect x="168.7" y="490.8" width="9.0" height="10.5" fill="#000" stroke="#000" stroke-width="1"/>
<rect x="181.3" y="489.2" width="8.799999999999983" height="12.100000000000023" fill="#151515" stroke="#111" stroke-width="1"/>
<rect x="193.7" y="478.3" width="9.100000000000023" height="23.0" fill="#5e5e5e" stroke="#333" stroke-width="1"/>
<rect x="205.8" y="471.8" width="9.5" height="29.5" fill="#929292" stroke="#4a4a4a" stroke-width="1"/>
<rect x="218.6" y="484.0" width="8.700000000000017" height="17.30000000000001" fill="#c0c0c0" stroke="#555" stroke-width="1"/>
<rect x="230.8" y="479.9" width="9.099999999999994" height="21.400000000000034" fill="#e0e0e0" stroke="#555" stroke-width="1"/>
<rect x="242.8" y="465.1" width="9.899999999999977" height="36.19999999999999" fill="#fff" stroke="#555" stroke-width="1"/>
<rect x="255.8" y="481.6" width="8.899999999999977" height="19.69999999999999" fill="#000" stroke="#000" stroke-width="1"/>
<rect x="308.6" y="455.1" width="9.099999999999966" height="46.19999999999999" fill="#000" stroke="#000" stroke-width="1"/>
<rect x="321.3" y="470.9" width="9.0" height="30.400000000000034" fill="#151515" stroke="#111" stroke-width="1"/>
<rect x="333.6" y="432.4" width="9.599999999999966" height="68.90000000000003" fill="#5e5e5e" stroke="#333" stroke-width="1"/>
<rect x="345.7" y="457.4" width="9.600000000000023" height="43.900000000000034" fill="#929292" stroke="#4a4a4a" stroke-width="1"/>
<path d="M358.0,411.6 V334.7 H368.0 V411.6" fill="#c0c0c0" stroke="#777" stroke-width="1"/>
<path d="M358.0,421 V501.3 H368.0 V421" fill="#c0c0c0" stroke="#333" stroke-width="1"/>
<path d="M370.5,411.6 V378.7 H380.1 V411.6" fill="#e0e0e0" stroke="#777" stroke-width="1"/>
<path d="M370.5,421 V501.3 H380.1 V421" fill="#e0e0e0" stroke="#333" stroke-width="1"/>
<rect x="382.8" y="465.7" width="9.899999999999977" height="35.60000000000002" fill="#fff" stroke="#555" stroke-width="1"/>
<rect x="395.6" y="462.3" width="9.099999999999966" height="39.0" fill="#000" stroke="#000" stroke-width="1"/>
<rect x="408.4" y="464.1" width="8.800000000000011" height="37.19999999999999" fill="#000" stroke="#000" stroke-width="1"/>
<text x="171.3" y="520.7" font-family="Liberation Sans, sans-serif" font-weight="bold" font-size="12.45" text-anchor="start" fill="#000" >A2UCOE clones</text>
<text x="343.8" y="520.3" font-family="Liberation Sans, sans-serif" font-weight="bold" font-size="12.45" text-anchor="start" fill="#000" >CMV clones</text>
<text x="90.2" y="541.7" font-family="Liberation Sans, sans-serif" font-weight="bold" font-size="10.25" text-anchor="start" fill="#000" >Ratio of</text>
<text x="60" y="553.7" font-family="Liberation Sans, sans-serif" font-weight="bold" font-size="10.35" text-anchor="start" fill="#000" >highest / lowest MFI</text>
<path d="M168.6,544.4 H181" stroke="#000" stroke-width="1.5"/>
<path d="M180,540.6 L187,544.4 L180,548.2 Z" fill="#000"/>
<text x="206.3" y="549" font-family="Liberation Sans, sans-serif" font-weight="bold" font-size="12.5" text-anchor="start" fill="#000" >2.3</text>
<text x="361.8" y="549.6" font-family="Liberation Sans, sans-serif" font-weight="bold" font-size="12.3" text-anchor="start" fill="#000" >24.5</text>
</svg></body></html>
